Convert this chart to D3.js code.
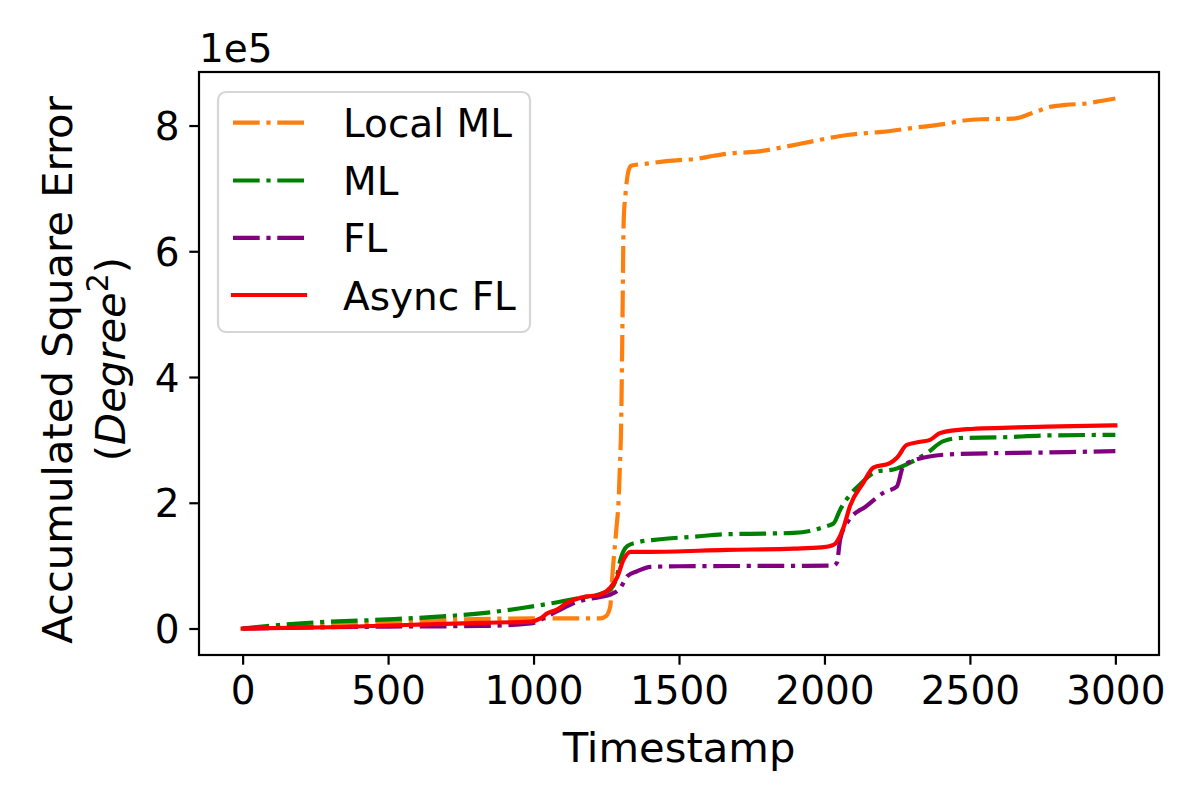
<!DOCTYPE html>
<html>
<head>
<meta charset="utf-8">
<script src="https://cdn.jsdelivr.net/npm/d3@7"></script>
<style>
  html, body { margin: 0; padding: 0; background: #fff; }
  svg text { font-family: "DejaVu Sans", sans-serif; fill: #000; }
</style>
</head>
<body>
<svg id="chart" width="1200" height="800"></svg>
<script>
// ---- Data (values in units of 1e5) ----
const seriesNames = ["Local ML", "ML", "FL", "Async FL"];
const seriesColors = ["#ff7f0e", "#008000", "#800080", "#ff0000"];

const localML = [[0,0],[150,0.02],[300,0.05],[450,0.09],[600,0.12],[800,0.15],[1000,0.16],[1230,0.16],[1250,0.2],[1264,0.36],[1270,0.78],[1285,1.6],[1292,2.0],[1297,2.6],[1301,3.2],[1305,4.6],[1310,6.5],[1316,6.9],[1325,7.25],[1335,7.36],[1400,7.40],[1450,7.43],[1500,7.45],[1560,7.47],[1620,7.52],[1680,7.56],[1760,7.58],[1850,7.65],[1950,7.74],[2050,7.83],[2120,7.87],[2200,7.90],[2300,7.96],[2420,8.03],[2480,8.08],[2540,8.10],[2650,8.11],[2710,8.19],[2780,8.30],[2830,8.33],[2900,8.35],[2950,8.39],[3000,8.43]];

const ml = [[0,0],[190,0.08],[475,0.14],[646,0.18],[818,0.24],[966,0.33],[1047,0.39],[1161,0.49],[1230,0.55],[1264,0.62],[1285,0.8],[1299,1.1],[1322,1.31],[1356,1.37],[1436,1.42],[1550,1.46],[1665,1.5],[1800,1.51],[1894,1.52],[1950,1.55],[2008,1.63],[2031,1.67],[2054,1.89],[2088,2.13],[2122,2.29],[2180,2.5],[2237,2.53],[2300,2.65],[2352,2.79],[2409,2.98],[2466,3.03],[2600,3.04],[2763,3.07],[3000,3.08]];

const fl = [[0,0],[300,0.02],[500,0.03],[818,0.04],[990,0.08],[1050,0.2],[1104,0.33],[1161,0.44],[1230,0.5],[1264,0.54],[1299,0.65],[1322,0.83],[1356,0.91],[1402,0.98],[1500,0.99],[2031,1.0],[2043,1.05],[2054,1.42],[2082,1.71],[2145,1.95],[2203,2.16],[2249,2.26],[2271,2.58],[2317,2.69],[2432,2.77],[2763,2.80],[3000,2.82]];

const asyncFL = [[0,0],[300,0.02],[588,0.06],[818,0.09],[990,0.11],[1024,0.16],[1047,0.24],[1080,0.3],[1116,0.41],[1161,0.49],[1230,0.54],[1264,0.65],[1287,0.81],[1310,1.1],[1333,1.22],[1400,1.22],[1665,1.25],[1894,1.27],[1990,1.29],[2031,1.33],[2065,1.6],[2088,1.95],[2134,2.32],[2168,2.56],[2225,2.63],[2250,2.72],[2283,2.92],[2330,2.97],[2363,3.0],[2398,3.11],[2489,3.17],[2763,3.21],[3000,3.23]];

const xTicks = [0, 500, 1000, 1500, 2000, 2500, 3000];
const yTicks = [0, 2, 4, 6, 8];

// ---- Layout ----
const svg = d3.select("#chart");
const mLeft = 199, mRight = 1159, mTop = 72, mBottom = 655;
const FS = 39;      // tick & legend font
const LFS = 41.7;   // axis label font
const lw = 4.2;

const x = d3.scaleLinear().domain([-150, 3150]).range([mLeft, mRight]);
const y = d3.scaleLinear().domain([-0.4215, 8.8515]).range([mBottom, mTop]);

const allSeries = [localML, ml, fl, asyncFL];
const dashes = ["26.7,6.7,4.2,6.7", "26.7,6.7,4.2,6.7", "26.7,6.7,4.2,6.7", null];

svg.append("defs").append("clipPath").attr("id", "clip")
  .append("rect").attr("x", mLeft).attr("y", mTop).attr("width", mRight-mLeft).attr("height", mBottom-mTop);

const line = d3.line().x(d => x(d[0])).y(d => y(d[1])).curve(d3.curveMonotoneX);

const plot = svg.append("g").attr("clip-path", "url(#clip)");
allSeries.forEach((s, i) => {
  plot.append("path")
    .attr("d", line(s))
    .attr("fill", "none")
    .attr("stroke", seriesColors[i])
    .attr("stroke-width", lw)
    .attr("stroke-linejoin", "round")
    .attr("stroke-linecap", dashes[i] ? "butt" : "square")
    .attr("stroke-dasharray", dashes[i]);
});

// Axes
const xAxis = d3.axisBottom(x).tickValues(xTicks).tickSize(9.7).tickPadding(9.7).tickFormat(d3.format("d"));
const yAxis = d3.axisLeft(y).tickValues(yTicks).tickSize(9.7).tickPadding(9.7).tickFormat(d3.format("d"));

const gx = svg.append("g").attr("transform", `translate(0,${mBottom})`).call(xAxis);
const gy = svg.append("g").attr("transform", `translate(${mLeft},0)`).call(yAxis);
[gx, gy].forEach(g => {
  g.select(".domain").remove();
  g.selectAll(".tick line").attr("stroke", "#000").attr("stroke-width", 2.2);
  g.selectAll(".tick text").attr("font-size", FS).attr("font-family", "DejaVu Sans").attr("fill", "#000");
});
gx.selectAll(".tick text").attr("dy", "0.76em");
gy.selectAll(".tick text").attr("dy", "0.36em");

// Frame
svg.append("rect").attr("x", mLeft).attr("y", mTop).attr("width", mRight-mLeft).attr("height", mBottom-mTop)
  .attr("fill", "none").attr("stroke", "#000").attr("stroke-width", 2.2);

// Offset text
svg.append("text").attr("x", mLeft).attr("y", 62).attr("font-size", FS).text("1e5");

// X label
svg.append("text").attr("x", (mLeft+mRight)/2).attr("y", 762).attr("text-anchor", "middle")
  .attr("font-size", LFS).text("Timestamp");

// Y label (two lines)
const ylab = svg.append("g");
ylab.append("text").attr("transform", "translate(71.5,370) rotate(-90)")
  .attr("text-anchor", "middle").attr("font-size", LFS).text("Accumulated Square Error");
const l2 = ylab.append("text").attr("transform", "translate(125,359) rotate(-90)")
  .attr("text-anchor", "middle").attr("font-size", LFS);
l2.append("tspan").text("(");
l2.append("tspan").attr("font-style", "italic").text("Degree");
l2.append("tspan").attr("font-size", LFS*0.72).attr("dy", -17).text("2");
l2.append("tspan").attr("dy", 17).text(")");

// Legend
const lg = svg.append("g");
lg.append("rect").attr("x", 218).attr("y", 92).attr("width", 312).attr("height", 240).attr("rx", 8)
  .attr("fill", "#fff").attr("fill-opacity", 0.8).attr("stroke", "#d6d6d6").attr("stroke-width", 2.2);
const legY = [122.7, 180.5, 237.8, 295];
seriesNames.forEach((name, i) => {
  lg.append("line").attr("x1", 233).attr("x2", 305).attr("y1", legY[i]).attr("y2", legY[i])
    .attr("stroke", seriesColors[i]).attr("stroke-width", lw)
    .attr("stroke-linecap", dashes[i] ? "butt" : "square")
    .attr("stroke-dasharray", dashes[i]);
  lg.append("text").attr("x", 343).attr("y", legY[i] + 14.5).attr("font-size", FS).text(name);
});
</script>
</body>
</html>
